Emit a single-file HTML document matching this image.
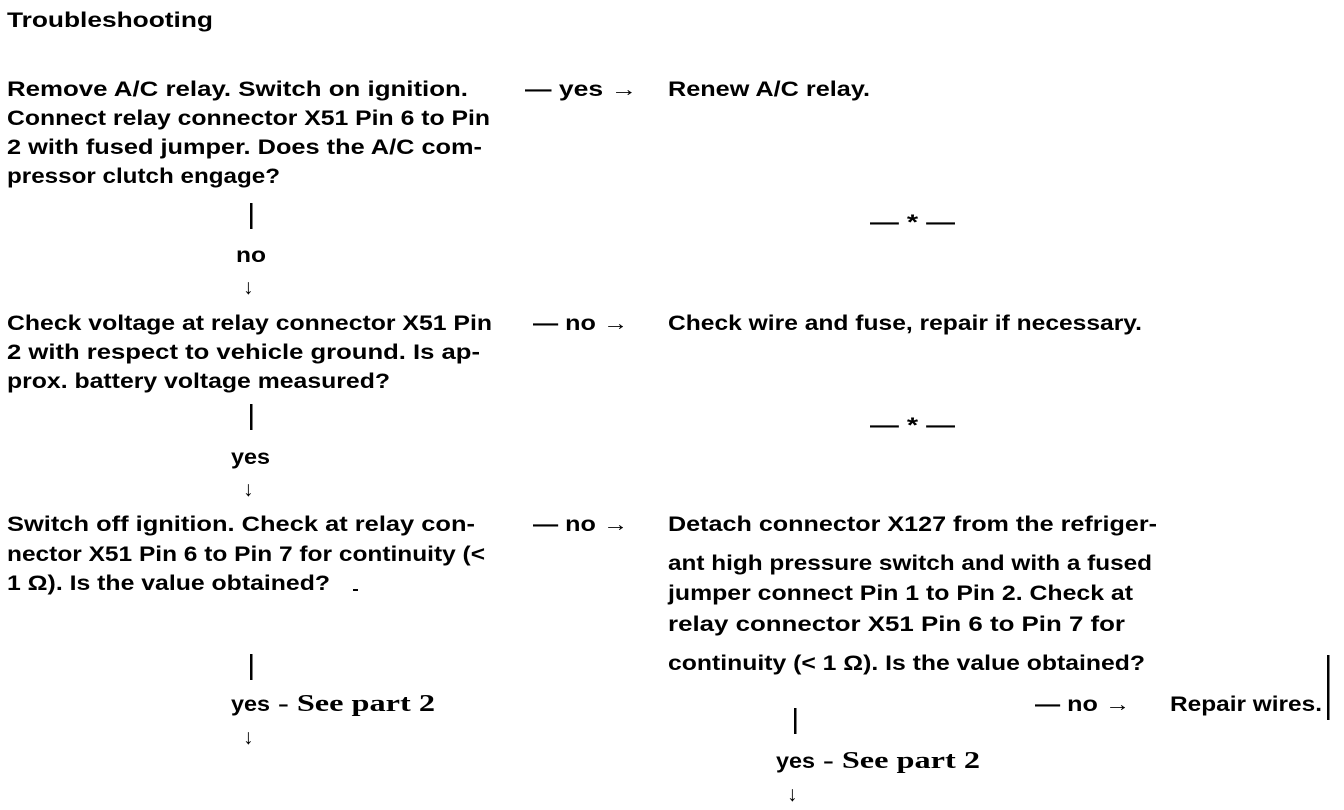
<!DOCTYPE html>
<html><head><meta charset="utf-8"><style>
html,body{margin:0;padding:0;background:#fff;}
svg{display:block}
text{font-family:"Liberation Sans",sans-serif;font-size:21px;fill:#000;font-weight:bold;}
.s{font-family:"Liberation Serif",serif;font-size:24px;}
</style></head><body>
<svg width="1344" height="810" xmlns="http://www.w3.org/2000/svg">
<text x="7" y="27" font-size="19" textLength="206" lengthAdjust="spacingAndGlyphs">Troubleshooting</text>

<text x="7" y="96" textLength="461" lengthAdjust="spacingAndGlyphs">Remove A/C relay. Switch on ignition.</text>
<text x="7" y="125" textLength="483" lengthAdjust="spacingAndGlyphs">Connect relay connector X51 Pin 6 to Pin</text>
<text x="7" y="154" textLength="475" lengthAdjust="spacingAndGlyphs">2 with fused jumper. Does the A/C com-</text>
<text x="7" y="183" textLength="273" lengthAdjust="spacingAndGlyphs">pressor clutch engage?</text>
<text x="525" y="96" textLength="112" lengthAdjust="spacingAndGlyphs">— yes →</text>
<text x="668" y="96" textLength="202" lengthAdjust="spacingAndGlyphs">Renew A/C relay.</text>
<rect x="250" y="203" width="2.5" height="26"/>
<text x="236" y="262" textLength="30" lengthAdjust="spacingAndGlyphs">no</text>
<text x="243" y="294">↓</text>
<text x="870" y="229" font-size="16" textLength="85" lengthAdjust="spacingAndGlyphs">— * —</text>

<text x="7" y="330" textLength="485" lengthAdjust="spacingAndGlyphs">Check voltage at relay connector X51 Pin</text>
<text x="7" y="359" textLength="473" lengthAdjust="spacingAndGlyphs">2 with respect to vehicle ground. Is ap-</text>
<text x="7" y="388" textLength="383" lengthAdjust="spacingAndGlyphs">prox. battery voltage measured?</text>
<text x="533" y="330" textLength="95" lengthAdjust="spacingAndGlyphs">— no →</text>
<text x="668" y="330" textLength="474" lengthAdjust="spacingAndGlyphs">Check wire and fuse, repair if necessary.</text>
<rect x="250" y="404" width="2.5" height="26"/>
<text x="231" y="464" textLength="39" lengthAdjust="spacingAndGlyphs">yes</text>
<text x="243" y="496">↓</text>
<text x="870" y="432" font-size="16" textLength="85" lengthAdjust="spacingAndGlyphs">— * —</text>

<text x="7" y="531" textLength="468" lengthAdjust="spacingAndGlyphs">Switch off ignition. Check at relay con-</text>
<text x="7" y="561" textLength="478" lengthAdjust="spacingAndGlyphs">nector X51 Pin 6 to Pin 7 for continuity (&lt;</text>
<text x="7" y="590" textLength="323" lengthAdjust="spacingAndGlyphs">1 Ω). Is the value obtained?</text>
<rect x="353" y="589" width="5" height="2"/>
<text x="533" y="531" textLength="95" lengthAdjust="spacingAndGlyphs">— no →</text>
<text x="668" y="531" textLength="489" lengthAdjust="spacingAndGlyphs">Detach connector X127 from the refriger-</text>
<text x="668" y="570" textLength="484" lengthAdjust="spacingAndGlyphs">ant high pressure switch and with a fused</text>
<text x="668" y="600" textLength="465" lengthAdjust="spacingAndGlyphs">jumper connect Pin 1 to Pin 2. Check at</text>
<text x="668" y="631" textLength="457" lengthAdjust="spacingAndGlyphs">relay connector X51 Pin 6 to Pin 7 for</text>
<text x="668" y="670" textLength="477" lengthAdjust="spacingAndGlyphs">continuity (&lt; 1 Ω). Is the value obtained?</text>

<rect x="250" y="654" width="2.5" height="26"/>
<text x="231" y="711" textLength="39" lengthAdjust="spacingAndGlyphs">yes</text>
<text class="s" x="278" y="711" textLength="157" lengthAdjust="spacingAndGlyphs">- See part 2</text>
<text x="243" y="744">↓</text>

<text x="1035" y="711" textLength="95" lengthAdjust="spacingAndGlyphs">— no →</text>
<text x="1170" y="711" textLength="152" lengthAdjust="spacingAndGlyphs">Repair wires.</text>
<rect x="1327" y="655" width="2.5" height="65"/>

<rect x="794" y="708" width="2.5" height="26"/>
<text x="776" y="768" textLength="39" lengthAdjust="spacingAndGlyphs">yes</text>
<text class="s" x="823" y="768" textLength="157" lengthAdjust="spacingAndGlyphs">- See part 2</text>
<text x="787" y="801">↓</text>
</svg>
</body></html>
